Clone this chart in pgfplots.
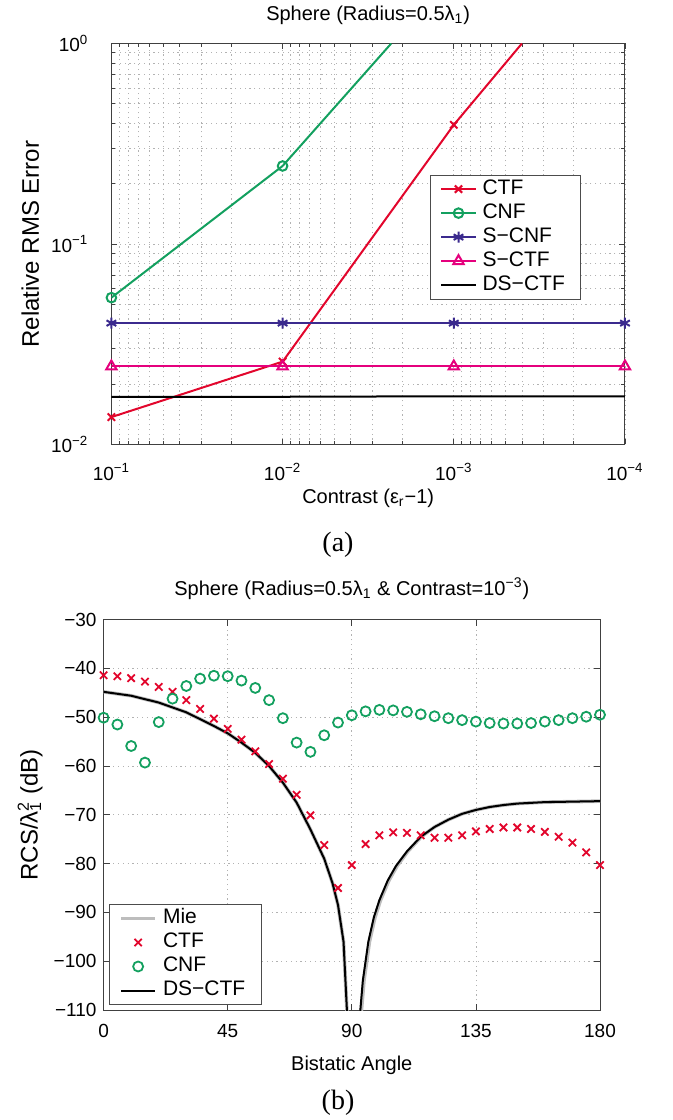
\documentclass[border=0pt]{standalone}
\usepackage{fontspec}
\setmainfont{Liberation Sans}
\newfontfamily\seriffont{Liberation Serif}
\usepackage{pgfplots}
\pgfplotsset{compat=1.18}

\definecolor{ctfred}{HTML}{E2062C}
\definecolor{cnfgreen}{HTML}{13A05F}
\definecolor{scnfblue}{HTML}{3B2A8E}
\definecolor{sctfpink}{HTML}{E5007D}
\definecolor{miegray}{HTML}{BDBDBD}

\pgfplotsset{
  matlab/.style={
    scale only axis,
    axis line style={black!75, line width=0.5pt},
    tick style={black!75, line width=0.4pt},
    major tick length=3pt,
    minor tick length=2pt,
    tick align=inside,
    tick pos=both,
    grid style={gray!60, line width=0.4pt, dash pattern=on 0.6pt off 1.8pt},
    minor grid style={gray!60, line width=0.4pt, dash pattern=on 0.6pt off 1.8pt},
    ticklabel style={font=\fontsize{9.5}{11}\selectfont},
    xlabel style={font=\fontsize{10}{12}\selectfont},
    ylabel style={font=\fontsize{12}{14}\selectfont},
    title style={font=\fontsize{10}{12}\selectfont, yshift=-6pt},
    legend style={draw=black!70, line width=0.5pt,
      font=\fontsize{10.5}{12}\selectfont,
      inner xsep=5pt, inner ysep=1pt, row sep=0pt,
      nodes={inner xsep=3pt, inner ysep=1pt, text height=7.5pt, text depth=2.5pt}},
    legend cell align=left,
  }
}

\begin{document}
\begin{tikzpicture}
\path[use as bounding box] (0,0) rectangle (336.5pt,560pt);

% (a) relative error against contrast
\begin{axis}[matlab,
  at={(55.7pt,337.75pt)}, anchor=south west,
  width=256.8pt, height=200.5pt,
  xmode=log, ymode=log, x dir=reverse,
  xmin=1e-4, xmax=1e-1, ymin=1e-2, ymax=1,
  xtick={1e-1,1e-2,1e-3,1e-4},
  xticklabels={10\textsuperscript{−1},10\textsuperscript{−2},10\textsuperscript{−3},10\textsuperscript{−4}},
  minor xtick={2e-4,3e-4,4e-4,5e-4,6e-4,7e-4,8e-4,9e-4,2e-3,3e-3,4e-3,5e-3,6e-3,7e-3,8e-3,9e-3,2e-2,3e-2,4e-2,5e-2,6e-2,7e-2,8e-2,9e-2},
  ytick={1e-2,1e-1,1},
  yticklabels={10\textsuperscript{−2},10\textsuperscript{−1},10\textsuperscript{0}},
  minor ytick={0.02,0.03,0.04,0.05,0.06,0.07,0.08,0.09,0.2,0.3,0.4,0.5,0.6,0.7,0.8,0.9},
  xticklabel style={yshift=-6pt},
  yticklabel style={xshift=-8pt},
  grid=both,
  title={Sphere (Radius=0.5λ\textsubscript{1})},
  title style={at={(axis description cs:0.5,1.0586)}, anchor=base},
  xlabel={Contrast (ε\textsubscript{r}−1)},
  xlabel style={at={(axis description cs:0.5,-0.146)}, anchor=base},
  ylabel={Relative RMS Error},
  ylabel style={at={(axis description cs:-0.158,0.5)}, anchor=center},
  legend style={at={(0.915,0.673)}, anchor=north east},
]
\addplot[ctfred, line width=1pt, mark=x, mark size=2.6pt]
  coordinates {(1e-1,0.0137) (1e-2,0.0259) (1e-3,0.393)};
\addlegendentry{CTF}
\addplot[ctfred, line width=1pt, forget plot]
  coordinates {(1e-3,0.393) (4.0e-4,1.0)};
\addplot[cnfgreen, line width=1pt, mark=o, mark size=2.4pt]
  coordinates {(1e-1,0.054) (1e-2,0.245)};
\addlegendentry{CNF}
\addplot[cnfgreen, line width=1pt, forget plot]
  coordinates {(1e-2,0.245) (2.32e-3,1.0)};
\addplot[scnfblue, line width=1pt, mark=asterisk, mark size=2.8pt]
  coordinates {(1e-1,0.0403) (1e-2,0.0403) (1e-3,0.0403) (1e-4,0.0403)};
\addlegendentry{S{−}CNF}
\addplot[sctfpink, line width=1pt, mark=triangle, mark size=3pt]
  coordinates {(1e-1,0.0245) (1e-2,0.0245) (1e-3,0.0245) (1e-4,0.0245)};
\addlegendentry{S{−}CTF}
\addplot[black, line width=1pt]
  coordinates {(1e-1,0.0173) (1e-2,0.0173) (1e-3,0.0174) (1e-4,0.0174)};
\addlegendentry{DS{−}CTF}
\end{axis}

% (b) bistatic RCS
\begin{axis}[matlab,
  at={(51.8pt,55pt)}, anchor=south west,
  width=248.2pt, height=195.2pt,
  xmin=0, xmax=180, ymin=-110, ymax=-30,
  xtick={0,45,90,135,180},
  xticklabels={0,45,90,135,180},
  ytick={-110,-100,-90,-80,-70,-60,-50,-40,-30},
  yticklabels={−110,−100,−90,−80,−70,−60,−50,−40,−30},
  xticklabel style={yshift=-3.5pt},
  grid=major,
  title={Sphere (Radius=0.5λ\textsubscript{1} \& Contrast=10\textsuperscript{−3})},
  title style={at={(axis description cs:0.5,1.063)}, anchor=base},
  xlabel={Bistatic Angle},
  xlabel style={at={(axis description cs:0.5,-0.154)}, anchor=base},
  ylabel={RCS/λ\rlap{\textsuperscript{2}}\textsubscript{1} (dB)},
  ylabel style={at={(axis description cs:-0.148,0.5)}, anchor=center},
  legend style={at={(0.0104,0.0128)}, anchor=south west},
]
\addplot[miegray, line width=1.8pt] coordinates {
  (0,-44.8) (10,-45.6) (20,-47.0) (30,-49.0) (40,-51.8) (45,-53.3) (50,-55.2)
  (55,-57.3) (60,-60.0) (65,-63.4) (70,-67.5) (75,-73.0) (80,-79.0) (83,-84.0)
  (85,-88.5) (87,-96) (88.4,-112)
};
\addlegendentry{Mie}
\addplot[miegray, line width=1.8pt, forget plot] coordinates {
  (93.2,-112) (94.4,-104) (96.4,-96) (98.4,-91) (100.4,-87.5) (103.4,-83.5)
  (106.4,-80.5) (110.3,-77.5) (115.2,-74.5) (120,-72.5) (125,-71) (130,-69.8)
  (135,-69.0) (140,-68.4) (145,-68.0) (150,-67.7) (160,-67.4) (170,-67.3) (180,-67.2)
};
\addplot[ctfred, only marks, mark=x, mark size=2.6pt, line width=0.9pt] coordinates {
  (0,-41.4) (5,-41.6) (10,-42.0) (15,-42.7) (20,-43.8) (25,-44.8) (30,-46.5)
  (35,-48.3) (40,-50.3) (45,-52.4) (50,-54.6) (55,-57.0) (60,-59.6) (65,-62.6)
  (70,-65.9) (75,-70.1) (80,-76.2) (85,-85.0) (90,-80.3) (95,-76.0) (100,-74.2)
  (105,-73.6) (110,-73.7) (115,-74.2) (120,-74.7) (125,-74.7) (130,-74.2)
  (135,-73.4) (140,-72.9) (145,-72.6) (150,-72.6) (155,-72.9) (160,-73.5)
  (165,-74.5) (170,-75.7) (175,-77.7) (180,-80.3)
};
\addlegendentry{CTF}
\addplot[cnfgreen, only marks, mark=o, mark size=2.5pt, line width=0.9pt] coordinates {
  (0,-50.1) (5,-51.5) (10,-55.9) (15,-59.3) (20,-51.0) (25,-46.2) (30,-43.6)
  (35,-42.1) (40,-41.5) (45,-41.6) (50,-42.5) (55,-44.0) (60,-46.5) (65,-50.2)
  (70,-55.2) (75,-57.1) (80,-53.7) (85,-51.1) (90,-49.6) (95,-48.8) (100,-48.5)
  (105,-48.6) (110,-48.9) (115,-49.4) (120,-49.8) (125,-50.2) (130,-50.6)
  (135,-50.9) (140,-51.2) (145,-51.3) (150,-51.3) (155,-51.2) (160,-50.9)
  (165,-50.6) (170,-50.2) (175,-49.9) (180,-49.5)
};
\addlegendentry{CNF}
\addplot[black, line width=1pt] coordinates {
  (0,-44.8) (10,-45.6) (20,-47.0) (30,-49.0) (40,-51.8) (45,-53.3) (50,-55.2)
  (55,-57.3) (60,-60.0) (65,-63.4) (70,-67.5) (75,-73.0) (80,-79.0) (83,-84.0)
  (85,-88.5) (87,-96) (88.4,-112)
};
\addlegendentry{DS{−}CTF}
\addplot[black, line width=1pt, forget plot] coordinates {
  (92.8,-112) (94,-104) (96,-96) (98,-91) (100,-87.5) (103,-83.5)
  (106,-80.5) (110,-77.5) (115,-74.5) (120,-72.5) (125,-71) (130,-69.8)
  (135,-69.0) (140,-68.4) (145,-68.0) (150,-67.7) (160,-67.4) (170,-67.3) (180,-67.2)
};
\end{axis}

\node[font=\seriffont\fontsize{14}{16}\selectfont] at (169pt,287.5pt) {(a)};
\node[font=\seriffont\fontsize{14}{16}\selectfont] at (169pt,8.5pt) {(b)};
\end{tikzpicture}
\end{document}
